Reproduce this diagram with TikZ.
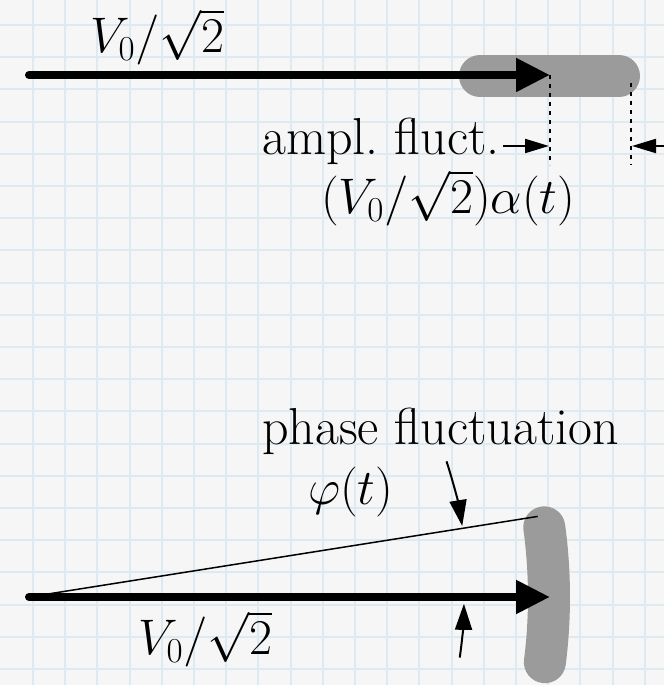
\RequirePackage{fix-cm}
\documentclass[tikz,border=0pt]{standalone}
\usetikzlibrary{arrows.meta}
\definecolor{paper}{RGB}{246,246,246}
\definecolor{gridblue}{RGB}{222,234,242}
\definecolor{fluctgray}{RGB}{155,155,155}
\begin{document}
\begin{tikzpicture}[x=1pt, y=1pt,
  every node/.style={font=\fontsize{52}{62}\selectfont, inner sep=0pt, anchor=base west},
  mathlabel/.style={font=\fontsize{50}{60}\selectfont},
  phasor/.style={line width=8pt, line cap=round, -{Triangle[length=34pt,width=32pt]}},
  fluct/.style={fluctgray, line width=42pt, line cap=round},
  marker/.style={line width=1.6pt, dash pattern=on 4pt off 5pt},
  pointer/.style={line width=2pt, -{Triangle[length=24pt,width=14pt]}},
  anglearrow/.style={line width=2pt, -{Triangle[length=26pt,width=17pt]}}]
% graph paper
\fill[paper] (0,0) rectangle (664,685);
\useasboundingbox (0,0) rectangle (664,685);
\foreach \k in {0,...,19} \draw[gridblue, line width=2pt] (33+32.2*\k,0) -- (33+32.2*\k,685);
\foreach \k in {0,...,20} \draw[gridblue, line width=2pt] (0,660-32.2*\k) -- (664,660-32.2*\k);

% amplitude fluctuation
\coordinate (O1) at (29,610);
\coordinate (T1) at (550,610);
\coordinate (F1) at (480,609);
\coordinate (F2) at (619,609);
\draw[fluct] (F1) -- (F2);
\draw[phasor] (O1) -- (T1);
\node[mathlabel] (vtop) at (90,632) {$V_0/\sqrt{2}$};
\coordinate (D1) at (550,520);
\coordinate (E1) at (631,602);
\coordinate (D2) at (631,520);
\draw[marker] (T1) -- (D1);
\draw[marker] (E1) -- (D2);
\node (ampl) at (262,530) {ampl.\ fluct.};
\node[mathlabel] (alpha) at (321,471) {$(V_0/\sqrt{2})\alpha(t)$};
\coordinate (P1) at (503,539);
\coordinate (P2) at (549,539);
\coordinate (Q1) at (664,539);
\coordinate (Q2) at (632,539);
\draw[pointer] (P1) -- (P2);
\draw[pointer] (Q1) -- (Q2);

% phase fluctuation
\coordinate (O2) at (29,88);
\coordinate (T2) at (550,88);
\draw[fluct] ([shift={(-7.2:520)}]O2) arc[start angle=-7.2, end angle=7.7, radius=520];
\draw[line width=1.5pt] (O2) -- ++(9:515) coordinate (R);
\draw[phasor] (O2) -- (T2);
\node (phase) at (262,240) {phase fluctuation};
\node[mathlabel] (phi) at (308,180) {$\varphi(t)$};
\node[mathlabel] (vbot) at (138,30) {$V_0/\sqrt{2}$};
\coordinate (U1) at ([shift={(18:439)}]O2);
\coordinate (U2) at ([shift={(-8:435)}]O2);
\draw[anglearrow] (U1) arc[start angle=18, end angle=9.3, radius=439];
\draw[anglearrow] (U2) arc[start angle=-8, end angle=-0.9, radius=435];
\end{tikzpicture}
\end{document}
